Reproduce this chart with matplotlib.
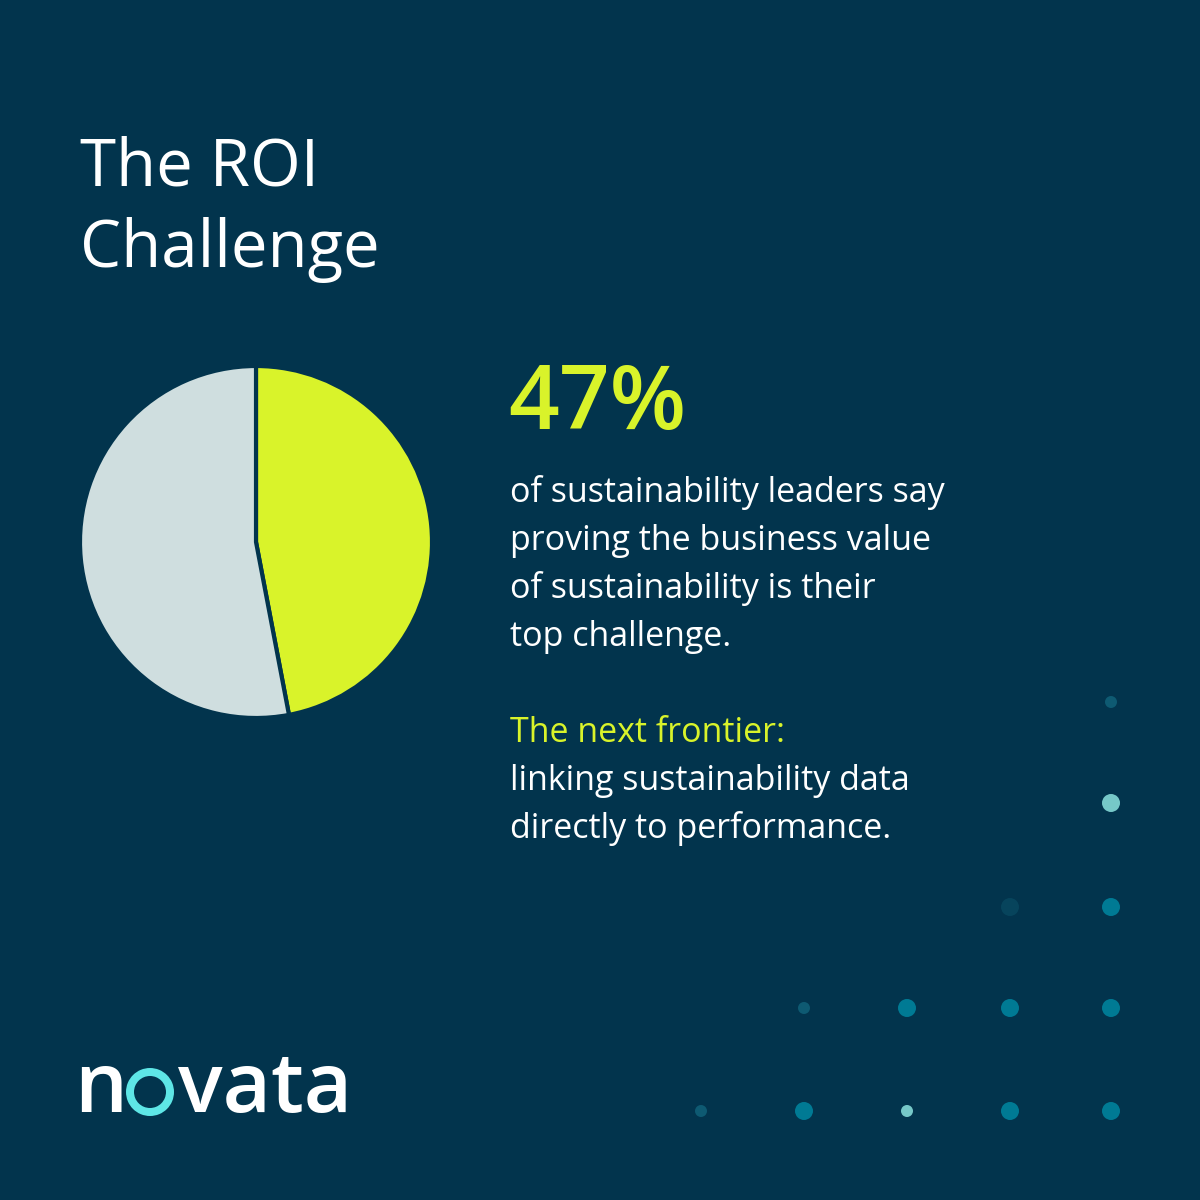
import matplotlib
matplotlib.use("Agg")
import matplotlib.pyplot as plt
from matplotlib.patches import Circle, Wedge

labels = ["Top challenge", "Other"]
values = [47, 53]
pie_colors = ["#D9F32A", "#CFDEDF"]

dot_x = [1111, 1111, 1010, 1111, 804, 907, 1010, 1111, 701, 804, 907, 1010, 1111]
dot_y = [702, 803, 907, 907, 1008, 1008, 1008, 1008, 1111, 1111, 1111, 1111, 1111]
dot_r = [6, 9, 9, 9, 6, 9, 9, 9, 6, 9, 6, 9, 9]
dot_c = ["#0E5A72", "#76C8C8", "#07445C", "#007A94", "#0E5A72", "#007A94", "#007A94",
         "#007A94", "#0E5A72", "#007A94", "#76C8C8", "#007A94", "#007A94"]

BG = "#02344D"
FONT = ["Open Sans", "DejaVu Sans"]

fig = plt.figure(figsize=(12, 12), dpi=100, facecolor=BG)
ax = fig.add_axes([0, 0, 1, 1])
ax.set_xlim(0, 1200); ax.set_ylim(1200, 0); ax.axis("off")
ax.set_facecolor(BG)

ax.text(80, 168, "The ROI", color="white", fontsize=47, family=FONT, va="center")
ax.text(80, 250, "Challenge", color="white", fontsize=47, family=FONT, va="center")

ax.text(508, 405, "47%", color="#D9F32A", fontsize=64, family=FONT, va="center", fontweight="semibold")
body = ["of sustainability leaders say", "proving the business value",
        "of sustainability is their", "top challenge."]
for i, s in enumerate(body):
    ax.text(510, 493 + 48 * i, s, color="white", fontsize=24.5, family=FONT, va="center")
ax.text(510, 733, "The next frontier:", color="#D9F32A", fontsize=24.5, family=FONT, va="center")
ax.text(510, 781, "linking sustainability data", color="white", fontsize=24.5, family=FONT, va="center")
ax.text(510, 829, "directly to performance.", color="white", fontsize=24.5, family=FONT, va="center")

for x, y, r, c in zip(dot_x, dot_y, dot_r, dot_c):
    ax.add_patch(Circle((x, y), r, color=c, lw=0))

# logo
ax.text(74, 1090, "n", color="white", fontsize=60, family=FONT, va="center", fontweight="semibold")
ax.add_patch(Wedge((150, 1092), 24, 0, 360, width=8, color="#5EE6E6", lw=0))
ax.text(178, 1090, "vata", color="white", fontsize=60, family=FONT, va="center", fontweight="semibold")

pax = fig.add_axes([80 / 1200, 1 - 718 / 1200, 352 / 1200, 352 / 1200])
pax.pie(values, colors=pie_colors, startangle=90, counterclock=False,
        wedgeprops=dict(edgecolor=BG, linewidth=3))
pax.set_xlim(-1, 1); pax.set_ylim(-1, 1)
pax.set_aspect("equal")

fig.savefig("out.png", dpi=100, facecolor=BG)
